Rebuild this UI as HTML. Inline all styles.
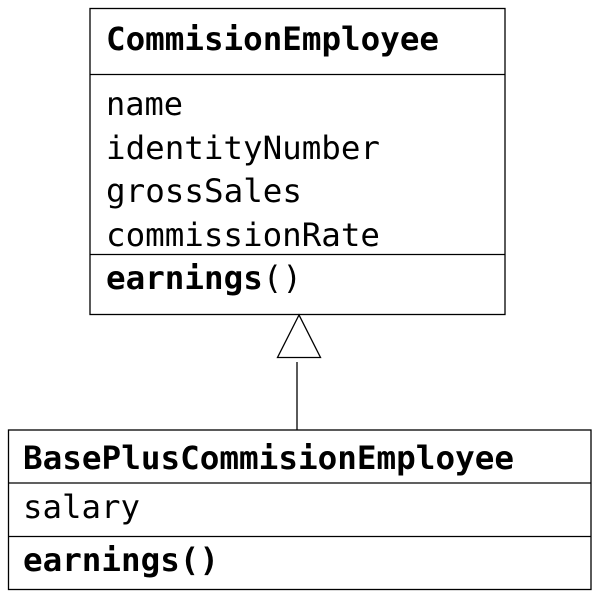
<!DOCTYPE html>
<html><head><meta charset="utf-8"><style>
html,body{margin:0;padding:0;background:#fff;}
svg{display:block;}
text{font-family:"DejaVu Sans Mono","Liberation Mono",monospace;font-size:32px;fill:#000;}
.b{font-weight:bold;}
</style></head><body>
<svg width="593" height="591" viewBox="0 0 593 591" xmlns="http://www.w3.org/2000/svg">
<g fill="none" stroke="#000" stroke-width="1.3">
<rect x="90" y="8.5" width="415" height="306"/>
<line x1="90" y1="74.5" x2="505" y2="74.5"/>
<line x1="90" y1="254.5" x2="505" y2="254.5"/>
<polygon points="299,315 277.5,357.5 320.5,357.5" fill="#fff"/>
<line x1="297" y1="362" x2="297" y2="430"/>
<rect x="8.5" y="430" width="582.5" height="159.5"/>
<line x1="8.5" y1="483" x2="591" y2="483"/>
<line x1="8.5" y1="536.5" x2="591" y2="536.5"/>
</g>
<text x="106" y="50" class="b" textLength="333" lengthAdjust="spacingAndGlyphs">CommisionEmployee</text>
<text x="106" y="115">name</text>
<text x="106" y="159" textLength="274" lengthAdjust="spacingAndGlyphs">identityNumber</text>
<text x="106" y="202" textLength="196" lengthAdjust="spacingAndGlyphs">grossSales</text>
<text x="106" y="246" textLength="274" lengthAdjust="spacingAndGlyphs">commissionRate</text>
<text x="106" y="289" textLength="196" lengthAdjust="spacingAndGlyphs"><tspan class="b">earnings</tspan>()</text>
<text x="23" y="469" class="b" textLength="491" lengthAdjust="spacingAndGlyphs">BasePlusCommisionEmployee</text>
<text x="23" y="518" textLength="117" lengthAdjust="spacingAndGlyphs">salary</text>
<text x="23" y="571" class="b" textLength="196" lengthAdjust="spacingAndGlyphs">earnings()</text>
</svg>
</body></html>
